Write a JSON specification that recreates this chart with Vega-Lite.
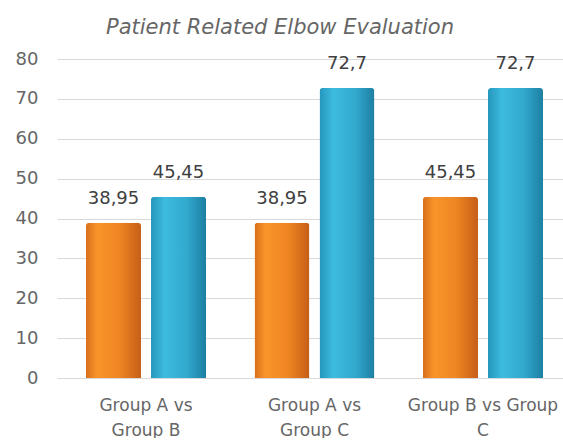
{
  "$schema": "https://vega.github.io/schema/vega-lite/v6.json",
  "width": 506,
  "height": 319,
  "autosize": "none",
  "padding": {"left": 57, "top": 59, "right": 0, "bottom": 60},
  "config": {
    "view": {"stroke": null},
    "font": "DejaVu Sans",
    "locale": {"number": {"decimal": ",", "thousands": ".", "grouping": [3], "currency": ["", " €"]}}
  },
  "title": {
    "text": "Patient Related Elbow Evaluation",
    "font": "DejaVu Sans",
    "fontStyle": "italic",
    "fontWeight": "normal",
    "fontSize": 21,
    "color": "#666666",
    "anchor": "middle",
    "dx": -30,
    "offset": 12
  },
  "data": {
    "values": [
      {"comparison": "Group A vs Group B", "series": "first", "value": 38.95},
      {"comparison": "Group A vs Group B", "series": "second", "value": 45.45},
      {"comparison": "Group A vs Group C", "series": "first", "value": 38.95},
      {"comparison": "Group A vs Group C", "series": "second", "value": 72.7},
      {"comparison": "Group B vs Group C", "series": "first", "value": 45.45},
      {"comparison": "Group B vs Group C", "series": "second", "value": 72.7}
    ]
  },
  "encoding": {
    "x": {
      "field": "comparison",
      "type": "nominal",
      "sort": null,
      "scale": {"paddingInner": 0.0504, "paddingOuter": 0.0267, "align": 1},
      "axis": {
        "title": null,
        "domain": false,
        "ticks": false,
        "labelAngle": 0,
        "labelPadding": 19,
        "labelFontSize": 17,
        "labelColor": "#666666",
        "labelLineHeight": 25,
        "labelLimit": 0,
        "labelBound": false,
        "labelExpr": "datum.label == 'Group A vs Group B' ? ['Group A vs', 'Group B'] : datum.label == 'Group A vs Group C' ? ['Group A vs', 'Group C'] : ['Group B vs Group', 'C']"
      }
    },
    "xOffset": {
      "field": "series",
      "type": "nominal",
      "scale": {"domain": ["first", "second"], "paddingInner": 0.154, "paddingOuter": 0.3077}
    },
    "y": {
      "field": "value",
      "type": "quantitative",
      "scale": {"domain": [0, 80]},
      "axis": {
        "title": null,
        "values": [0, 10, 20, 30, 40, 50, 60, 70, 80],
        "domain": false,
        "ticks": false,
        "labelPadding": 19,
        "labelFontSize": 18,
        "labelColor": "#666666",
        "gridColor": "#d9d9d9",
        "gridWidth": 1
      }
    }
  },
  "layer": [
    {
      "transform": [{"filter": "datum.series == 'first'"}],
      "mark": {
        "type": "bar",
        "cornerRadiusTopLeft": 3,
        "cornerRadiusTopRight": 3,
        "fill": {
          "gradient": "linear", "x1": 0, "x2": 1, "y1": 0, "y2": 0,
          "stops": [
            {"offset": 0, "color": "#d9701c"},
            {"offset": 0.2, "color": "#f7952a"},
            {"offset": 0.6, "color": "#ef8622"},
            {"offset": 1, "color": "#c55f18"}
          ]
        }
      }
    },
    {
      "transform": [{"filter": "datum.series == 'second'"}],
      "mark": {
        "type": "bar",
        "cornerRadiusTopLeft": 3,
        "cornerRadiusTopRight": 3,
        "fill": {
          "gradient": "linear", "x1": 0, "x2": 1, "y1": 0, "y2": 0,
          "stops": [
            {"offset": 0, "color": "#2596bc"},
            {"offset": 0.25, "color": "#3dbbe0"},
            {"offset": 0.65, "color": "#32a9cf"},
            {"offset": 1, "color": "#1d7fa2"}
          ]
        }
      }
    },
    {
      "mark": {"type": "text", "baseline": "alphabetic", "dy": -19, "fontSize": 18, "color": "#404040"},
      "encoding": {
        "text": {"field": "value", "type": "quantitative", "format": ".2~f"}
      }
    }
  ]
}
